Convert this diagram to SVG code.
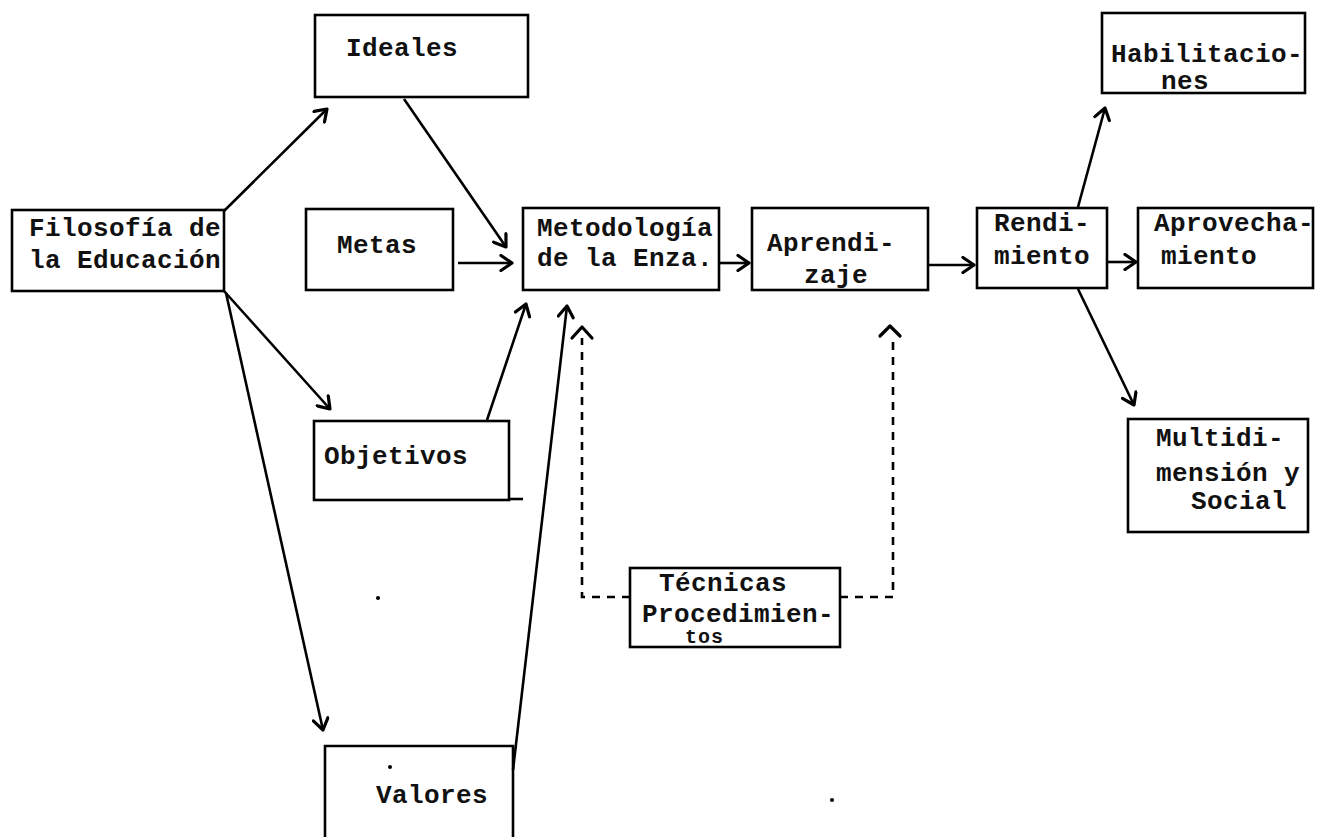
<svg xmlns="http://www.w3.org/2000/svg" width="1317" height="837" viewBox="0 0 1317 837">
  <defs>
    <style>
      .box { fill: none; stroke: #000; stroke-width: 2.6; }
      .lbl { font-family: "Liberation Mono", "Courier New", monospace; font-weight: bold; font-size: 26px; letter-spacing: 0.4px; fill: #111; }
      .sm { font-size: 20px; letter-spacing: 1px; }
      .edge { fill: none; stroke: #000; stroke-width: 2.6; marker-end: url(#arr); }
      .dash { fill: none; stroke: #000; stroke-width: 2.6; stroke-dasharray: 8 7; }
    </style>
    <marker id="arr" viewBox="-14 -9 16 18" markerWidth="16" markerHeight="18" refX="0" refY="0" orient="auto" markerUnits="userSpaceOnUse">
      <path d="M -11 -7.5 L 0 0 L -11 7.5" fill="none" stroke="#000" stroke-width="3.2" stroke-linejoin="round" stroke-linecap="round"/>
    </marker>
  </defs>
  <rect width="1317" height="837" fill="#fff"/>

  <!-- connectors -->
  <g id="connectors">
    <line class="edge" x1="224" y1="211" x2="327" y2="109"/>
    <line class="edge" x1="224" y1="291" x2="330" y2="409"/>
    <line class="edge" x1="226" y1="293" x2="323" y2="730"/>
    <line class="edge" x1="404" y1="99" x2="506" y2="247"/>
    <line class="edge" x1="458" y1="263" x2="512" y2="263"/>
    <line class="edge" x1="487" y1="420" x2="526" y2="304"/>
    <line class="edge" x1="513" y1="770" x2="567" y2="306"/>
    <line class="edge" x1="720" y1="263" x2="749" y2="263"/>
    <line class="edge" x1="929" y1="265" x2="974" y2="265"/>
    <line class="edge" x1="1078" y1="207" x2="1105" y2="108"/>
    <line class="edge" x1="1108" y1="262" x2="1136" y2="262"/>
    <line class="edge" x1="1078" y1="289" x2="1134" y2="405"/>
    <!-- dashed links from Técnicas -->
    <polyline class="dash" points="630,597 582,597 582,338"/>
    <polyline class="dash" points="840,597 893,597 893,337"/>
    <path d="M 572 338 L 582 327 L 592 338" fill="none" stroke="#000" stroke-width="3.2" stroke-linejoin="round" stroke-linecap="round"/>
    <path d="M 880 336 L 890 326 L 900 336" fill="none" stroke="#000" stroke-width="3.2" stroke-linejoin="round" stroke-linecap="round"/>
  </g>

  <g id="filosofia">
    <rect class="box" x="12" y="210" width="212" height="81"/>
    <text class="lbl" x="29" y="236">Filosofía de</text>
    <text class="lbl" x="29" y="268">la Educación</text>
  </g>

  <g id="ideales">
    <rect class="box" x="315" y="15" width="213" height="82"/>
    <text class="lbl" x="346" y="56">Ideales</text>
  </g>

  <g id="metas">
    <rect class="box" x="306" y="209" width="147" height="81"/>
    <text class="lbl" x="337" y="253">Metas</text>
  </g>

  <g id="objetivos">
    <rect class="box" x="314" y="421" width="195" height="79"/>
    <line x1="509" y1="499" x2="523" y2="499" stroke="#000" stroke-width="2.6"/>
    <text class="lbl" x="324" y="464">Objetivos</text>
  </g>

  <g id="valores">
    <path class="box" d="M 325 840 L 325 746 L 513 746 L 513 840"/>
    <circle cx="390" cy="767" r="2" fill="#000"/>
    <text class="lbl" x="376" y="803">Valores</text>
  </g>

  <g id="metodologia">
    <rect class="box" x="523" y="208" width="196" height="82"/>
    <text class="lbl" x="537" y="236">Metodología</text>
    <text class="lbl" x="537" y="266">de la Enza.</text>
  </g>

  <g id="aprendizaje">
    <rect class="box" x="752" y="208" width="176" height="82"/>
    <text class="lbl" x="767" y="251">Aprendi-</text>
    <text class="lbl" x="804" y="283">zaje</text>
  </g>

  <g id="rendimiento">
    <rect class="box" x="977" y="208" width="130" height="80"/>
    <text class="lbl" x="994" y="231">Rendi-</text>
    <text class="lbl" x="994" y="264">miento</text>
  </g>

  <g id="habilitaciones">
    <rect class="box" x="1102" y="13" width="203" height="80"/>
    <text class="lbl" x="1111" y="62">Habilitacio-</text>
    <text class="lbl" x="1161" y="89">nes</text>
  </g>

  <g id="aprovechamiento">
    <rect class="box" x="1138" y="208" width="175" height="80"/>
    <text class="lbl" x="1154" y="231">Aprovecha-</text>
    <text class="lbl" x="1161" y="264">miento</text>
  </g>

  <g id="multidimension">
    <rect class="box" x="1128" y="419" width="180" height="113"/>
    <text class="lbl" x="1156" y="446">Multidi-</text>
    <text class="lbl" x="1156" y="481">mensión y</text>
    <text class="lbl" x="1191" y="509">Social</text>
  </g>

  <g id="tecnicas">
    <rect class="box" x="630" y="568" width="210" height="79"/>
    <text class="lbl" x="659" y="591">Técnicas</text>
    <text class="lbl" x="642" y="622">Procedimien-</text>
    <text class="lbl sm" x="685" y="643">tos</text>
  </g>

  <!-- loose dots -->
  <circle cx="378" cy="598" r="2" fill="#000"/>
  <circle cx="832" cy="800" r="2" fill="#000"/>
</svg>
